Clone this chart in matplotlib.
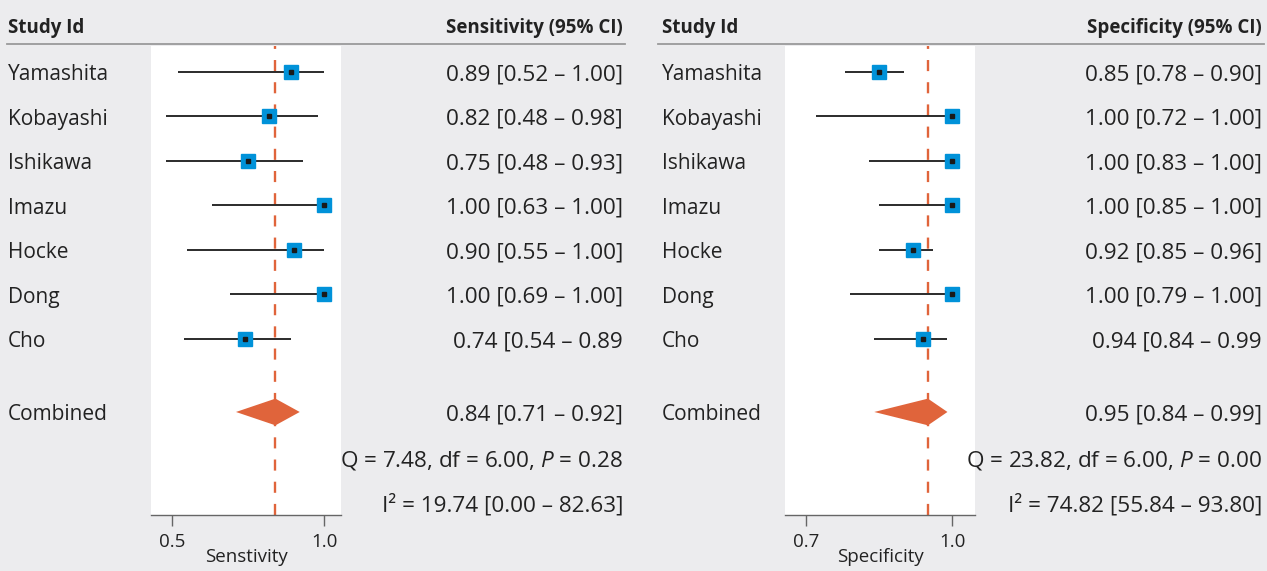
import numpy as np
import matplotlib.pyplot as plt
import matplotlib.transforms as mtransforms

plt.rcParams['font.family'] = ['Open Sans', 'DejaVu Sans']
plt.rcParams['mathtext.fontset'] = 'custom'
plt.rcParams['mathtext.it'] = 'Open Sans:italic'
plt.rcParams['mathtext.rm'] = 'Open Sans'

# Datos
studies = ['Yamashita', 'Kobayashi', 'Ishikawa', 'Imazu', 'Hocke', 'Dong', 'Cho']

sens = [0.89, 0.82, 0.75, 1.00, 0.90, 1.00, 0.74]
sens_lo = [0.52, 0.48, 0.48, 0.63, 0.55, 0.69, 0.54]
sens_hi = [1.00, 0.98, 0.93, 1.00, 1.00, 1.00, 0.89]
sens_labels = ['0.89 [0.52 – 1.00]', '0.82 [0.48 – 0.98]', '0.75 [0.48 – 0.93]',
               '1.00 [0.63 – 1.00]', '0.90 [0.55 – 1.00]', '1.00 [0.69 – 1.00]',
               '0.74 [0.54 – 0.89']
sens_comb = (0.84, 0.71, 0.92)
sens_comb_label = '0.84 [0.71 – 0.92]'
sens_q = 'Q = 7.48, df = 6.00, $\\it{P}$ = 0.28'
sens_i2 = 'I² = 19.74 [0.00 – 82.63]'

spec = [0.85, 1.00, 1.00, 1.00, 0.92, 1.00, 0.94]
spec_lo = [0.78, 0.72, 0.83, 0.85, 0.85, 0.79, 0.84]
spec_hi = [0.90, 1.00, 1.00, 1.00, 0.96, 1.00, 0.99]
spec_labels = ['0.85 [0.78 – 0.90]', '1.00 [0.72 – 1.00]', '1.00 [0.83 – 1.00]',
               '1.00 [0.85 – 1.00]', '0.92 [0.85 – 0.96]', '1.00 [0.79 – 1.00]',
               '0.94 [0.84 – 0.99']
spec_comb = (0.95, 0.84, 0.99)
spec_comb_label = '0.95 [0.84 – 0.99]'
spec_q = 'Q = 23.82, df = 6.00, $\\it{P}$ = 0.00'
spec_i2 = 'I² = 74.82 [55.84 – 93.80]'

BG = '#ececee'
BLUE = '#0092d9'
ORANGE = '#e0643b'
W, H = 1267, 571

fig = plt.figure(figsize=(W / 100, H / 100), dpi=100, facecolor=BG)

rows = np.arange(len(studies))
y_comb, y_q, y_i2 = 7.64, 8.67, 9.66


def panel(px_left, px_right, xlim, ticks, xlabel, name_x, val_x, line_x0,
          header, est, lo, hi, labels, comb, comb_label, q_txt, i2_txt):
    ax = fig.add_axes([px_left / W, 56 / H, (px_right - px_left) / W, 469 / H])
    ax.set_facecolor('white')
    ax.set_xlim(*xlim)
    ax.set_ylim(9.955, -0.584)
    for s in ['top', 'left', 'right']:
        ax.spines[s].set_visible(False)
    ax.spines['bottom'].set_color('#666666')
    ax.spines['bottom'].set_linewidth(1.0)
    ax.set_yticks([])
    ax.set_xticks(ticks)
    ax.set_xticklabels(['%.1f' % t for t in ticks])
    ax.tick_params(axis='x', length=8, width=1.0, color='#666666', pad=5,
                   labelsize=13.5, labelcolor='#222222')
    ax.set_xlabel(xlabel, fontsize=13.5, color='#222222', labelpad=-2)

    ax.axvline(comb[0], color=ORANGE, lw=1.7, dashes=(4.7, 4.7), zorder=1)
    ax.hlines(rows, lo, hi, color='#1a1a1a', lw=1.3, zorder=2)
    ax.plot(est, rows, 's', color=BLUE, ms=10.5, mec=BLUE, zorder=3)
    ax.plot(est, rows, 's', color='#1a1a1a', ms=3, zorder=4)

    c, l, h = comb
    ax.fill([l, c, h, c], [y_comb, y_comb - 0.3, y_comb, y_comb + 0.3],
            color=ORANGE, lw=0, zorder=3)

    tr = mtransforms.blended_transform_factory(fig.transFigure, ax.transData)
    tr = mtransforms.offset_copy(tr, fig=fig, y=-3, units='dots')
    tkw = dict(color='#222222', va='center', transform=tr)
    for r, name, lab in zip(rows, studies, labels):
        fig.text(name_x / W, r, name, ha='left', fontsize=15, **tkw)
        fig.text(val_x / W, r, lab, ha='right', fontsize=16.2, **tkw)
    fig.text(name_x / W, y_comb, 'Combined', ha='left', fontsize=15, **tkw)
    fig.text(val_x / W, y_comb, comb_label, ha='right', fontsize=16.2, **tkw)
    fig.text(val_x / W, y_q, q_txt, ha='right', fontsize=16.2, **tkw)
    fig.text(val_x / W, y_i2, i2_txt, ha='right', fontsize=16.2, **tkw)

    # Cabecera
    hkw = dict(family=['Liberation Sans Narrow', 'Open Sans'], fontsize=13.5,
               weight='bold', color='#222222', va='center')
    fig.text(name_x / W, 1 - 28 / H, 'Study Id', ha='left', **hkw)
    fig.text(val_x / W, 1 - 28 / H, header, ha='right', **hkw)
    fig.add_artist(plt.Line2D([line_x0 / W, (val_x + 2) / W], [1 - 44 / H, 1 - 44 / H],
                              color='#9a9a9a', lw=1.3))
    return ax


panel(151, 341, (0.43, 1.056), [0.5, 1.0], 'Senstivity', 8, 623, 7,
      'Sensitivity (95% CI)', sens, sens_lo, sens_hi, sens_labels,
      sens_comb, sens_comb_label, sens_q, sens_i2)
panel(785, 975, (0.657, 1.0465), [0.7, 1.0], 'Specificity', 662, 1262, 658,
      'Specificity (95% CI)', spec, spec_lo, spec_hi, spec_labels,
      spec_comb, spec_comb_label, spec_q, spec_i2)

fig.savefig('out.png', dpi=100, facecolor=BG)
